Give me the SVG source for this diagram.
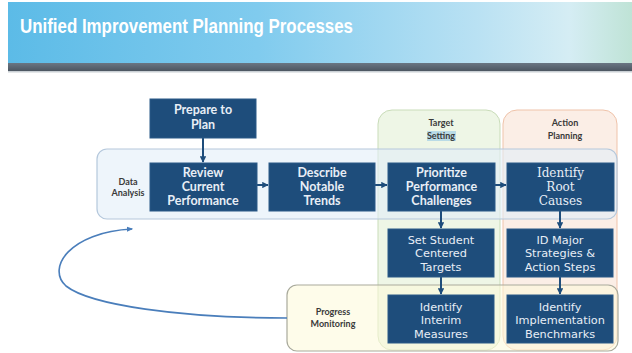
<svg xmlns="http://www.w3.org/2000/svg" width="632" height="353" viewBox="0 0 632 353">
<defs>
<linearGradient id="hdr" x1="0" y1="0" x2="1" y2="0">
<stop offset="0" stop-color="#5cbbe7"/>
<stop offset="0.4" stop-color="#80cbee"/>
<stop offset="0.75" stop-color="#b9e1f3"/>
<stop offset="0.9" stop-color="#d5edf4"/>
<stop offset="1" stop-color="#bfe3d6"/>
</linearGradient>
<linearGradient id="bar" x1="0" y1="0" x2="0" y2="1">
<stop offset="0" stop-color="#6a7683"/>
<stop offset="1" stop-color="#4c5661"/>
</linearGradient>
<marker id="ah" viewBox="0 0 10 10" refX="9" refY="5" markerWidth="3.2" markerHeight="3.2" orient="auto" markerUnits="strokeWidth">
<path d="M0,0 L10,5 L0,10 z" fill="#1e4d7b"/>
</marker>
<marker id="ah2" viewBox="0 0 10 10" refX="8" refY="5" markerWidth="4" markerHeight="4" orient="auto" markerUnits="strokeWidth">
<path d="M0,1 L10,5 L0,9 z" fill="#4a7ebb"/>
</marker>
</defs>
<style>
.box{fill:#1e4d7b;stroke:#2a5a88;stroke-width:1}
.t1{font-family:Lato,"Open Sans",sans-serif;font-weight:bold;font-size:12.5px;fill:#e8eef6;text-anchor:middle}
.t2{font-family:"DejaVu Sans",Verdana,sans-serif;font-size:11.3px;fill:#e8eef6;text-anchor:middle}
.t3{font-family:"DejaVu Serif","Liberation Serif",serif;font-size:12px;fill:#e8eef6;text-anchor:middle}
.lbl{font-family:Lato,"Open Sans",sans-serif;font-weight:bold;font-size:9px;fill:#3a3a3a;text-anchor:middle}
.arr{stroke:#1e4d7b;stroke-width:2;fill:none;marker-end:url(#ah)}
</style>
<rect width="632" height="353" fill="#ffffff"/>
<g id="header">
<rect x="8" y="2" width="624" height="61" fill="url(#hdr)"/>
<rect x="8" y="63" width="624" height="8" fill="url(#bar)"/>
<rect x="8" y="71" width="624" height="1.5" fill="#c9cfd4"/>
<text x="20" y="33" font-family="Liberation Sans,Arial,sans-serif" font-weight="bold" font-size="20" fill="#ffffff" textLength="333" lengthAdjust="spacingAndGlyphs">Unified Improvement Planning Processes</text>
</g>
<g id="target-setting">
<rect x="378" y="110" width="122" height="240" rx="14" fill="#eef6e6" stroke="#c9dcb9" stroke-width="1"/>
<rect x="427" y="131" width="29" height="10" fill="#b9dbe6"/>
<text class="lbl" x="441" y="126">Target</text>
<text class="lbl" x="441" y="139">Setting</text>
</g>
<g id="action-planning">
<rect x="503" y="110" width="114" height="240" rx="14" fill="#fbeee6" stroke="#efc3aa" stroke-width="1"/>
<text class="lbl" x="565" y="126">Action</text>
<text class="lbl" x="565" y="139">Planning</text>
</g>
<g id="data-analysis">
<rect x="97" y="149" width="520" height="70" rx="10" fill="#e3eef9" fill-opacity="0.6" stroke="#b5c8dc" stroke-width="1.2"/>
<text class="lbl" x="128" y="185">Data</text>
<text class="lbl" x="128" y="196">Analysis</text>
</g>
<g id="progress-monitoring">
<rect x="287" y="285" width="331" height="66" rx="10" fill="#fdf9d8" fill-opacity="0.55" stroke="#a9aa9c" stroke-width="1.2"/>
<text class="lbl" x="333" y="315">Progress</text>
<text class="lbl" x="333" y="327">Monitoring</text>
</g>
<g id="connectors">
<path class="arr" d="M203,138 V162"/>
<path class="arr" d="M257,185 H268"/>
<path class="arr" d="M375,185 H387"/>
<path class="arr" d="M495,185 H506"/>
<path class="arr" d="M441,211 V228"/>
<path class="arr" d="M441,277 V294"/>
<path class="arr" d="M560,211 V228"/>
<path class="arr" d="M560,277 V294"/>
<path d="M287,318 C180,318 90,305 66,286 C46,268 70,232 132,229" fill="none" stroke="#4a7ebb" stroke-width="1.6" marker-end="url(#ah2)"/>
</g>
<g id="prepare">
<rect class="box" x="150" y="99" width="106" height="39"/>
<text class="t1" x="203" y="114">Prepare to</text>
<text class="t1" x="203" y="129">Plan</text>
</g>
<g id="review">
<rect class="box" x="150" y="163" width="107" height="48"/>
<text class="t1" x="203" y="177">Review</text>
<text class="t1" x="203" y="191">Current</text>
<text class="t1" x="203" y="205">Performance</text>
</g>
<g id="describe">
<rect class="box" x="269" y="163" width="106" height="48"/>
<text class="t1" x="322" y="177">Describe</text>
<text class="t1" x="322" y="191">Notable</text>
<text class="t1" x="322" y="205">Trends</text>
</g>
<g id="prioritize">
<rect class="box" x="388" y="163" width="107" height="48"/>
<text class="t1" x="441.5" y="177">Prioritize</text>
<text class="t1" x="441.5" y="191">Performance</text>
<text class="t1" x="441.5" y="205">Challenges</text>
</g>
<g id="root-causes">
<rect class="box" x="507" y="163" width="107" height="48"/>
<text class="t3" x="560.5" y="177">Identify</text>
<text class="t3" x="560.5" y="191">Root</text>
<text class="t3" x="560.5" y="205">Causes</text>
</g>
<g id="set-targets">
<rect class="box" x="388" y="229" width="106" height="48"/>
<text class="t2" x="441" y="244">Set Student</text>
<text class="t2" x="441" y="257">Centered</text>
<text class="t2" x="441" y="271">Targets</text>
</g>
<g id="id-major">
<rect class="box" x="507" y="229" width="106" height="48"/>
<text class="t2" x="560" y="244">ID Major</text>
<text class="t2" x="560" y="257">Strategies &amp;</text>
<text class="t2" x="560" y="271">Action Steps</text>
</g>
<g id="interim">
<rect class="box" x="388" y="295" width="106" height="48"/>
<text class="t2" x="441" y="311">Identify</text>
<text class="t2" x="441" y="324">Interim</text>
<text class="t2" x="441" y="338">Measures</text>
</g>
<g id="benchmarks">
<rect class="box" x="507" y="295" width="106" height="48"/>
<text class="t2" x="560" y="311">Identify</text>
<text class="t2" x="560" y="324">Implementation</text>
<text class="t2" x="560" y="338">Benchmarks</text>
</g>
</svg>
